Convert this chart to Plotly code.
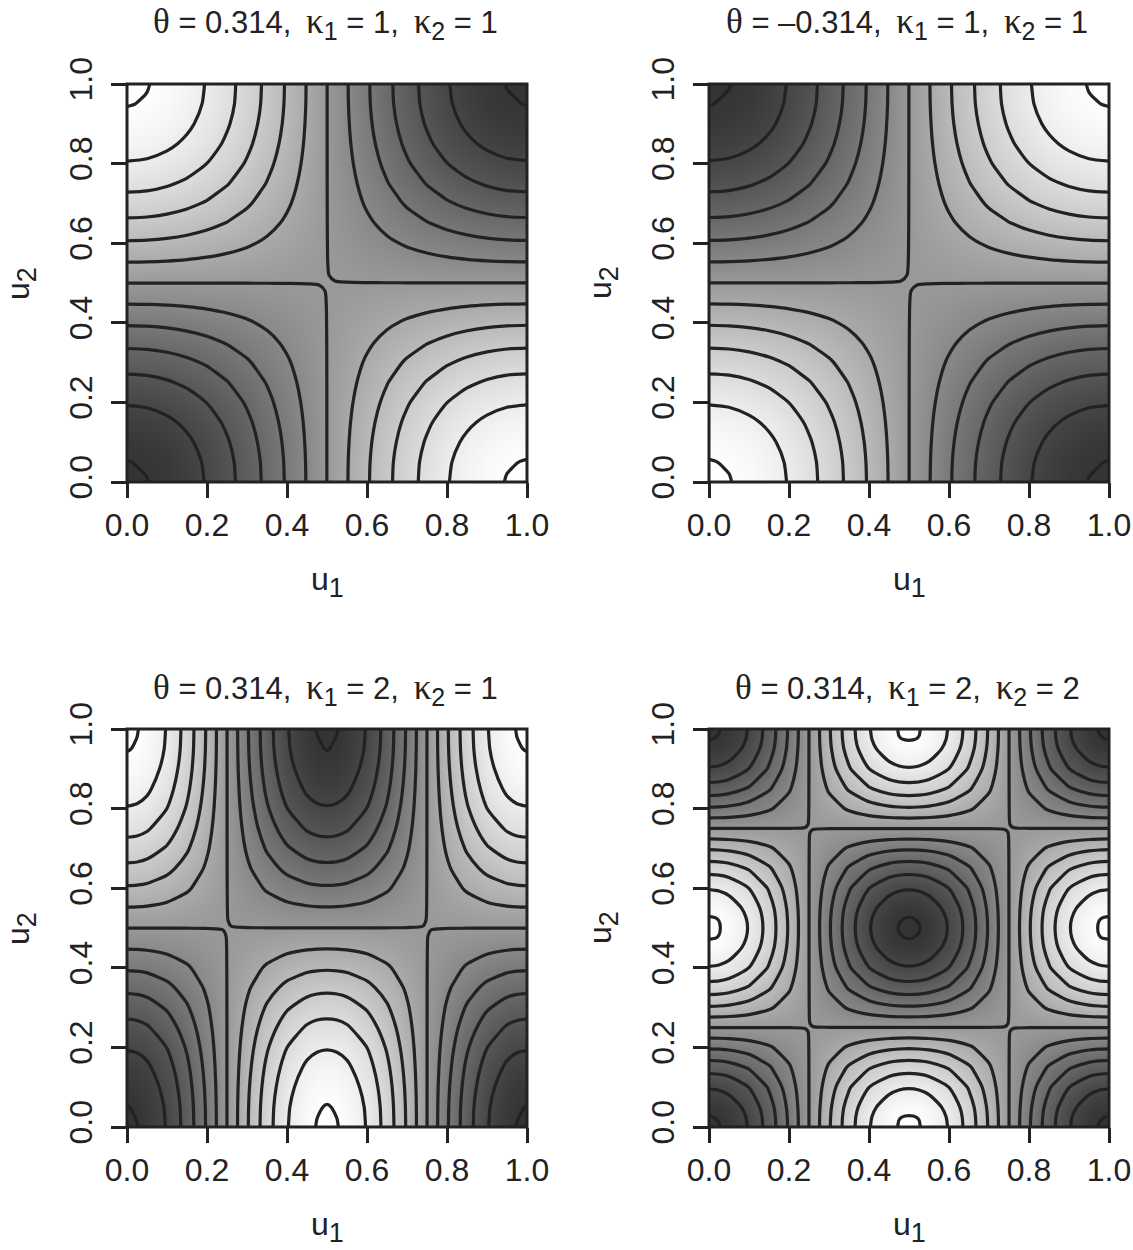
import plotly.graph_objects as go

# grid positions, values (scale: -100 white .. 100 dark)
u_k1 = [0, .05, .1, .15, .2, .25, .3, .35, .4, .45, .48, .52, .55, .6, .65, .7, .75, .8, .85, .9, .95, 1]
u_k2 = [0, .025, .05, .1, .15, .2, .24, .26, .3, .35, .4, .45, .475, .5, .525, .55, .6, .65, .7, .74, .76, .8, .85, .9, .95, .975, 1]

tick_vals = [0, .2, .4, .6, .8, 1]
tick_text = ['0.0', '0.2', '0.4', '0.6', '0.8', '1.0']

theta_a = '0.314'
theta_b = '–0.314'
kappa_pairs = [(1, 1), (1, 1), (2, 1), (2, 2)]

z_a = [
    [100,98.8,95.1,89.1,80.9,70.7,58.8,45.4,30.9,15.6,6.3,-6.3,-15.6,-30.9,-45.4,-58.8,-70.7,-80.9,-89.1,-95.1,-98.8,-100],
    [98.8,97.6,94.0,88.0,79.9,69.9,58.1,44.9,30.5,15.4,6.2,-6.2,-15.4,-30.5,-44.9,-58.1,-69.9,-79.9,-88.0,-94.0,-97.6,-98.8],
    [95.1,94.0,90.4,84.7,76.9,67.2,55.9,43.2,29.4,14.8,6.0,-6.0,-14.8,-29.4,-43.2,-55.9,-67.2,-76.9,-84.7,-90.4,-94.0,-95.1],
    [89.1,88.0,84.7,79.4,72.1,63.0,52.4,40.5,27.5,13.9,5.6,-5.6,-13.9,-27.5,-40.5,-52.4,-63.0,-72.1,-79.4,-84.7,-88.0,-89.1],
    [80.9,79.9,76.9,72.1,65.4,57.2,47.6,36.7,25.0,12.6,5.1,-5.1,-12.6,-25.0,-36.7,-47.6,-57.2,-65.4,-72.1,-76.9,-79.9,-80.9],
    [70.7,69.9,67.2,63.0,57.2,50.0,41.6,32.1,21.8,11.0,4.5,-4.5,-11.0,-21.8,-32.1,-41.6,-50.0,-57.2,-63.0,-67.2,-69.9,-70.7],
    [58.8,58.1,55.9,52.4,47.6,41.6,34.6,26.7,18.2,9.2,3.7,-3.7,-9.2,-18.2,-26.7,-34.6,-41.6,-47.6,-52.4,-55.9,-58.1,-58.8],
    [45.4,44.9,43.2,40.5,36.7,32.1,26.7,20.6,14.0,7.1,2.9,-2.9,-7.1,-14.0,-20.6,-26.7,-32.1,-36.7,-40.5,-43.2,-44.9,-45.4],
    [30.9,30.5,29.4,27.5,25.0,21.8,18.2,14.0,9.5,4.8,1.9,-1.9,-4.8,-9.5,-14.0,-18.2,-21.8,-25.0,-27.5,-29.4,-30.5,-30.9],
    [15.6,15.4,14.8,13.9,12.6,11.0,9.2,7.1,4.8,2.4,1.0,-1.0,-2.4,-4.8,-7.1,-9.2,-11.0,-12.6,-13.9,-14.8,-15.4,-15.6],
    [6.3,6.2,6.0,5.6,5.1,4.5,3.7,2.9,1.9,1.0,0.4,-0.4,-1.0,-1.9,-2.9,-3.7,-4.5,-5.1,-5.6,-6.0,-6.2,-6.3],
    [-6.3,-6.2,-6.0,-5.6,-5.1,-4.5,-3.7,-2.9,-1.9,-1.0,-0.4,0.4,1.0,1.9,2.9,3.7,4.5,5.1,5.6,6.0,6.2,6.3],
    [-15.6,-15.4,-14.8,-13.9,-12.6,-11.0,-9.2,-7.1,-4.8,-2.4,-1.0,1.0,2.4,4.8,7.1,9.2,11.0,12.6,13.9,14.8,15.4,15.6],
    [-30.9,-30.5,-29.4,-27.5,-25.0,-21.8,-18.2,-14.0,-9.5,-4.8,-1.9,1.9,4.8,9.5,14.0,18.2,21.8,25.0,27.5,29.4,30.5,30.9],
    [-45.4,-44.9,-43.2,-40.5,-36.7,-32.1,-26.7,-20.6,-14.0,-7.1,-2.9,2.9,7.1,14.0,20.6,26.7,32.1,36.7,40.5,43.2,44.9,45.4],
    [-58.8,-58.1,-55.9,-52.4,-47.6,-41.6,-34.6,-26.7,-18.2,-9.2,-3.7,3.7,9.2,18.2,26.7,34.6,41.6,47.6,52.4,55.9,58.1,58.8],
    [-70.7,-69.9,-67.2,-63.0,-57.2,-50.0,-41.6,-32.1,-21.8,-11.0,-4.5,4.5,11.0,21.8,32.1,41.6,50.0,57.2,63.0,67.2,69.9,70.7],
    [-80.9,-79.9,-76.9,-72.1,-65.4,-57.2,-47.6,-36.7,-25.0,-12.6,-5.1,5.1,12.6,25.0,36.7,47.6,57.2,65.4,72.1,76.9,79.9,80.9],
    [-89.1,-88.0,-84.7,-79.4,-72.1,-63.0,-52.4,-40.5,-27.5,-13.9,-5.6,5.6,13.9,27.5,40.5,52.4,63.0,72.1,79.4,84.7,88.0,89.1],
    [-95.1,-94.0,-90.4,-84.7,-76.9,-67.2,-55.9,-43.2,-29.4,-14.8,-6.0,6.0,14.8,29.4,43.2,55.9,67.2,76.9,84.7,90.4,94.0,95.1],
    [-98.8,-97.6,-94.0,-88.0,-79.9,-69.9,-58.1,-44.9,-30.5,-15.4,-6.2,6.2,15.4,30.5,44.9,58.1,69.9,79.9,88.0,94.0,97.6,98.8],
    [-100,-98.8,-95.1,-89.1,-80.9,-70.7,-58.8,-45.4,-30.9,-15.6,-6.3,6.3,15.6,30.9,45.4,58.8,70.7,80.9,89.1,95.1,98.8,100],
]

z_b = [
    [-100,-98.8,-95.1,-89.1,-80.9,-70.7,-58.8,-45.4,-30.9,-15.6,-6.3,6.3,15.6,30.9,45.4,58.8,70.7,80.9,89.1,95.1,98.8,100],
    [-98.8,-97.6,-94.0,-88.0,-79.9,-69.9,-58.1,-44.9,-30.5,-15.4,-6.2,6.2,15.4,30.5,44.9,58.1,69.9,79.9,88.0,94.0,97.6,98.8],
    [-95.1,-94.0,-90.4,-84.7,-76.9,-67.2,-55.9,-43.2,-29.4,-14.8,-6.0,6.0,14.8,29.4,43.2,55.9,67.2,76.9,84.7,90.4,94.0,95.1],
    [-89.1,-88.0,-84.7,-79.4,-72.1,-63.0,-52.4,-40.5,-27.5,-13.9,-5.6,5.6,13.9,27.5,40.5,52.4,63.0,72.1,79.4,84.7,88.0,89.1],
    [-80.9,-79.9,-76.9,-72.1,-65.4,-57.2,-47.6,-36.7,-25.0,-12.6,-5.1,5.1,12.6,25.0,36.7,47.6,57.2,65.4,72.1,76.9,79.9,80.9],
    [-70.7,-69.9,-67.2,-63.0,-57.2,-50.0,-41.6,-32.1,-21.8,-11.0,-4.5,4.5,11.0,21.8,32.1,41.6,50.0,57.2,63.0,67.2,69.9,70.7],
    [-58.8,-58.1,-55.9,-52.4,-47.6,-41.6,-34.6,-26.7,-18.2,-9.2,-3.7,3.7,9.2,18.2,26.7,34.6,41.6,47.6,52.4,55.9,58.1,58.8],
    [-45.4,-44.9,-43.2,-40.5,-36.7,-32.1,-26.7,-20.6,-14.0,-7.1,-2.9,2.9,7.1,14.0,20.6,26.7,32.1,36.7,40.5,43.2,44.9,45.4],
    [-30.9,-30.5,-29.4,-27.5,-25.0,-21.8,-18.2,-14.0,-9.5,-4.8,-1.9,1.9,4.8,9.5,14.0,18.2,21.8,25.0,27.5,29.4,30.5,30.9],
    [-15.6,-15.4,-14.8,-13.9,-12.6,-11.0,-9.2,-7.1,-4.8,-2.4,-1.0,1.0,2.4,4.8,7.1,9.2,11.0,12.6,13.9,14.8,15.4,15.6],
    [-6.3,-6.2,-6.0,-5.6,-5.1,-4.5,-3.7,-2.9,-1.9,-1.0,-0.4,0.4,1.0,1.9,2.9,3.7,4.5,5.1,5.6,6.0,6.2,6.3],
    [6.3,6.2,6.0,5.6,5.1,4.5,3.7,2.9,1.9,1.0,0.4,-0.4,-1.0,-1.9,-2.9,-3.7,-4.5,-5.1,-5.6,-6.0,-6.2,-6.3],
    [15.6,15.4,14.8,13.9,12.6,11.0,9.2,7.1,4.8,2.4,1.0,-1.0,-2.4,-4.8,-7.1,-9.2,-11.0,-12.6,-13.9,-14.8,-15.4,-15.6],
    [30.9,30.5,29.4,27.5,25.0,21.8,18.2,14.0,9.5,4.8,1.9,-1.9,-4.8,-9.5,-14.0,-18.2,-21.8,-25.0,-27.5,-29.4,-30.5,-30.9],
    [45.4,44.9,43.2,40.5,36.7,32.1,26.7,20.6,14.0,7.1,2.9,-2.9,-7.1,-14.0,-20.6,-26.7,-32.1,-36.7,-40.5,-43.2,-44.9,-45.4],
    [58.8,58.1,55.9,52.4,47.6,41.6,34.6,26.7,18.2,9.2,3.7,-3.7,-9.2,-18.2,-26.7,-34.6,-41.6,-47.6,-52.4,-55.9,-58.1,-58.8],
    [70.7,69.9,67.2,63.0,57.2,50.0,41.6,32.1,21.8,11.0,4.5,-4.5,-11.0,-21.8,-32.1,-41.6,-50.0,-57.2,-63.0,-67.2,-69.9,-70.7],
    [80.9,79.9,76.9,72.1,65.4,57.2,47.6,36.7,25.0,12.6,5.1,-5.1,-12.6,-25.0,-36.7,-47.6,-57.2,-65.4,-72.1,-76.9,-79.9,-80.9],
    [89.1,88.0,84.7,79.4,72.1,63.0,52.4,40.5,27.5,13.9,5.6,-5.6,-13.9,-27.5,-40.5,-52.4,-63.0,-72.1,-79.4,-84.7,-88.0,-89.1],
    [95.1,94.0,90.4,84.7,76.9,67.2,55.9,43.2,29.4,14.8,6.0,-6.0,-14.8,-29.4,-43.2,-55.9,-67.2,-76.9,-84.7,-90.4,-94.0,-95.1],
    [98.8,97.6,94.0,88.0,79.9,69.9,58.1,44.9,30.5,15.4,6.2,-6.2,-15.4,-30.5,-44.9,-58.1,-69.9,-79.9,-88.0,-94.0,-97.6,-98.8],
    [100,98.8,95.1,89.1,80.9,70.7,58.8,45.4,30.9,15.6,6.3,-6.3,-15.6,-30.9,-45.4,-58.8,-70.7,-80.9,-89.1,-95.1,-98.8,-100],
]

z_c = [
    [100,98.8,95.1,80.9,58.8,30.9,6.3,-6.3,-30.9,-58.8,-80.9,-95.1,-98.8,-100,-98.8,-95.1,-80.9,-58.8,-30.9,-6.3,6.3,30.9,58.8,80.9,95.1,98.8,100],
    [98.8,97.6,94.0,79.9,58.1,30.5,6.2,-6.2,-30.5,-58.1,-79.9,-94.0,-97.6,-98.8,-97.6,-94.0,-79.9,-58.1,-30.5,-6.2,6.2,30.5,58.1,79.9,94.0,97.6,98.8],
    [95.1,94.0,90.4,76.9,55.9,29.4,6.0,-6.0,-29.4,-55.9,-76.9,-90.4,-94.0,-95.1,-94.0,-90.4,-76.9,-55.9,-29.4,-6.0,6.0,29.4,55.9,76.9,90.4,94.0,95.1],
    [89.1,88.0,84.7,72.1,52.4,27.5,5.6,-5.6,-27.5,-52.4,-72.1,-84.7,-88.0,-89.1,-88.0,-84.7,-72.1,-52.4,-27.5,-5.6,5.6,27.5,52.4,72.1,84.7,88.0,89.1],
    [80.9,79.9,76.9,65.4,47.6,25.0,5.1,-5.1,-25.0,-47.6,-65.4,-76.9,-79.9,-80.9,-79.9,-76.9,-65.4,-47.6,-25.0,-5.1,5.1,25.0,47.6,65.4,76.9,79.9,80.9],
    [70.7,69.9,67.2,57.2,41.6,21.8,4.5,-4.5,-21.8,-41.6,-57.2,-67.2,-69.9,-70.7,-69.9,-67.2,-57.2,-41.6,-21.8,-4.5,4.5,21.8,41.6,57.2,67.2,69.9,70.7],
    [58.8,58.1,55.9,47.6,34.6,18.2,3.7,-3.7,-18.2,-34.6,-47.6,-55.9,-58.1,-58.8,-58.1,-55.9,-47.6,-34.6,-18.2,-3.7,3.7,18.2,34.6,47.6,55.9,58.1,58.8],
    [45.4,44.9,43.2,36.7,26.7,14.0,2.9,-2.9,-14.0,-26.7,-36.7,-43.2,-44.9,-45.4,-44.9,-43.2,-36.7,-26.7,-14.0,-2.9,2.9,14.0,26.7,36.7,43.2,44.9,45.4],
    [30.9,30.5,29.4,25.0,18.2,9.5,1.9,-1.9,-9.5,-18.2,-25.0,-29.4,-30.5,-30.9,-30.5,-29.4,-25.0,-18.2,-9.5,-1.9,1.9,9.5,18.2,25.0,29.4,30.5,30.9],
    [15.6,15.4,14.8,12.6,9.2,4.8,1.0,-1.0,-4.8,-9.2,-12.6,-14.8,-15.4,-15.6,-15.4,-14.8,-12.6,-9.2,-4.8,-1.0,1.0,4.8,9.2,12.6,14.8,15.4,15.6],
    [6.3,6.2,6.0,5.1,3.7,1.9,0.4,-0.4,-1.9,-3.7,-5.1,-6.0,-6.2,-6.3,-6.2,-6.0,-5.1,-3.7,-1.9,-0.4,0.4,1.9,3.7,5.1,6.0,6.2,6.3],
    [-6.3,-6.2,-6.0,-5.1,-3.7,-1.9,-0.4,0.4,1.9,3.7,5.1,6.0,6.2,6.3,6.2,6.0,5.1,3.7,1.9,0.4,-0.4,-1.9,-3.7,-5.1,-6.0,-6.2,-6.3],
    [-15.6,-15.4,-14.8,-12.6,-9.2,-4.8,-1.0,1.0,4.8,9.2,12.6,14.8,15.4,15.6,15.4,14.8,12.6,9.2,4.8,1.0,-1.0,-4.8,-9.2,-12.6,-14.8,-15.4,-15.6],
    [-30.9,-30.5,-29.4,-25.0,-18.2,-9.5,-1.9,1.9,9.5,18.2,25.0,29.4,30.5,30.9,30.5,29.4,25.0,18.2,9.5,1.9,-1.9,-9.5,-18.2,-25.0,-29.4,-30.5,-30.9],
    [-45.4,-44.9,-43.2,-36.7,-26.7,-14.0,-2.9,2.9,14.0,26.7,36.7,43.2,44.9,45.4,44.9,43.2,36.7,26.7,14.0,2.9,-2.9,-14.0,-26.7,-36.7,-43.2,-44.9,-45.4],
    [-58.8,-58.1,-55.9,-47.6,-34.6,-18.2,-3.7,3.7,18.2,34.6,47.6,55.9,58.1,58.8,58.1,55.9,47.6,34.6,18.2,3.7,-3.7,-18.2,-34.6,-47.6,-55.9,-58.1,-58.8],
    [-70.7,-69.9,-67.2,-57.2,-41.6,-21.8,-4.5,4.5,21.8,41.6,57.2,67.2,69.9,70.7,69.9,67.2,57.2,41.6,21.8,4.5,-4.5,-21.8,-41.6,-57.2,-67.2,-69.9,-70.7],
    [-80.9,-79.9,-76.9,-65.4,-47.6,-25.0,-5.1,5.1,25.0,47.6,65.4,76.9,79.9,80.9,79.9,76.9,65.4,47.6,25.0,5.1,-5.1,-25.0,-47.6,-65.4,-76.9,-79.9,-80.9],
    [-89.1,-88.0,-84.7,-72.1,-52.4,-27.5,-5.6,5.6,27.5,52.4,72.1,84.7,88.0,89.1,88.0,84.7,72.1,52.4,27.5,5.6,-5.6,-27.5,-52.4,-72.1,-84.7,-88.0,-89.1],
    [-95.1,-94.0,-90.4,-76.9,-55.9,-29.4,-6.0,6.0,29.4,55.9,76.9,90.4,94.0,95.1,94.0,90.4,76.9,55.9,29.4,6.0,-6.0,-29.4,-55.9,-76.9,-90.4,-94.0,-95.1],
    [-98.8,-97.6,-94.0,-79.9,-58.1,-30.5,-6.2,6.2,30.5,58.1,79.9,94.0,97.6,98.8,97.6,94.0,79.9,58.1,30.5,6.2,-6.2,-30.5,-58.1,-79.9,-94.0,-97.6,-98.8],
    [-100,-98.8,-95.1,-80.9,-58.8,-30.9,-6.3,6.3,30.9,58.8,80.9,95.1,98.8,100,98.8,95.1,80.9,58.8,30.9,6.3,-6.3,-30.9,-58.8,-80.9,-95.1,-98.8,-100],
]

z_d = [
    [100,98.8,95.1,80.9,58.8,30.9,6.3,-6.3,-30.9,-58.8,-80.9,-95.1,-98.8,-100,-98.8,-95.1,-80.9,-58.8,-30.9,-6.3,6.3,30.9,58.8,80.9,95.1,98.8,100],
    [98.8,98.1,94.0,79.9,58.1,30.5,6.2,-6.2,-30.5,-58.1,-79.9,-94.0,-98.1,-98.8,-98.1,-94.0,-79.9,-58.1,-30.5,-6.2,6.2,30.5,58.1,79.9,94.0,98.1,98.8],
    [95.1,94.0,90.4,76.9,55.9,29.4,6.0,-6.0,-29.4,-55.9,-76.9,-90.4,-94.0,-95.1,-94.0,-90.4,-76.9,-55.9,-29.4,-6.0,6.0,29.4,55.9,76.9,90.4,94.0,95.1],
    [80.9,79.9,76.9,65.4,47.6,25.0,5.1,-5.1,-25.0,-47.6,-65.4,-76.9,-79.9,-80.9,-79.9,-76.9,-65.4,-47.6,-25.0,-5.1,5.1,25.0,47.6,65.4,76.9,79.9,80.9],
    [58.8,58.1,55.9,47.6,34.6,18.2,3.7,-3.7,-18.2,-34.6,-47.6,-55.9,-58.1,-58.8,-58.1,-55.9,-47.6,-34.6,-18.2,-3.7,3.7,18.2,34.6,47.6,55.9,58.1,58.8],
    [30.9,30.5,29.4,25.0,18.2,9.5,1.9,-1.9,-9.5,-18.2,-25.0,-29.4,-30.5,-30.9,-30.5,-29.4,-25.0,-18.2,-9.5,-1.9,1.9,9.5,18.2,25.0,29.4,30.5,30.9],
    [6.3,6.2,6.0,5.1,3.7,1.9,0.4,-0.4,-1.9,-3.7,-5.1,-6.0,-6.2,-6.3,-6.2,-6.0,-5.1,-3.7,-1.9,-0.4,0.4,1.9,3.7,5.1,6.0,6.2,6.3],
    [-6.3,-6.2,-6.0,-5.1,-3.7,-1.9,-0.4,0.4,1.9,3.7,5.1,6.0,6.2,6.3,6.2,6.0,5.1,3.7,1.9,0.4,-0.4,-1.9,-3.7,-5.1,-6.0,-6.2,-6.3],
    [-30.9,-30.5,-29.4,-25.0,-18.2,-9.5,-1.9,1.9,9.5,18.2,25.0,29.4,30.5,30.9,30.5,29.4,25.0,18.2,9.5,1.9,-1.9,-9.5,-18.2,-25.0,-29.4,-30.5,-30.9],
    [-58.8,-58.1,-55.9,-47.6,-34.6,-18.2,-3.7,3.7,18.2,34.6,47.6,55.9,58.1,58.8,58.1,55.9,47.6,34.6,18.2,3.7,-3.7,-18.2,-34.6,-47.6,-55.9,-58.1,-58.8],
    [-80.9,-79.9,-76.9,-65.4,-47.6,-25.0,-5.1,5.1,25.0,47.6,65.4,76.9,79.9,80.9,79.9,76.9,65.4,47.6,25.0,5.1,-5.1,-25.0,-47.6,-65.4,-76.9,-79.9,-80.9],
    [-95.1,-94.0,-90.4,-76.9,-55.9,-29.4,-6.0,6.0,29.4,55.9,76.9,90.4,94.0,95.1,94.0,90.4,76.9,55.9,29.4,6.0,-6.0,-29.4,-55.9,-76.9,-90.4,-94.0,-95.1],
    [-98.8,-98.1,-94.0,-79.9,-58.1,-30.5,-6.2,6.2,30.5,58.1,79.9,94.0,98.1,98.8,98.1,94.0,79.9,58.1,30.5,6.2,-6.2,-30.5,-58.1,-79.9,-94.0,-98.1,-98.8],
    [-100,-98.8,-95.1,-80.9,-58.8,-30.9,-6.3,6.3,30.9,58.8,80.9,95.1,98.8,100,98.8,95.1,80.9,58.8,30.9,6.3,-6.3,-30.9,-58.8,-80.9,-95.1,-98.8,-100],
    [-98.8,-98.1,-94.0,-79.9,-58.1,-30.5,-6.2,6.2,30.5,58.1,79.9,94.0,98.1,98.8,98.1,94.0,79.9,58.1,30.5,6.2,-6.2,-30.5,-58.1,-79.9,-94.0,-98.1,-98.8],
    [-95.1,-94.0,-90.4,-76.9,-55.9,-29.4,-6.0,6.0,29.4,55.9,76.9,90.4,94.0,95.1,94.0,90.4,76.9,55.9,29.4,6.0,-6.0,-29.4,-55.9,-76.9,-90.4,-94.0,-95.1],
    [-80.9,-79.9,-76.9,-65.4,-47.6,-25.0,-5.1,5.1,25.0,47.6,65.4,76.9,79.9,80.9,79.9,76.9,65.4,47.6,25.0,5.1,-5.1,-25.0,-47.6,-65.4,-76.9,-79.9,-80.9],
    [-58.8,-58.1,-55.9,-47.6,-34.6,-18.2,-3.7,3.7,18.2,34.6,47.6,55.9,58.1,58.8,58.1,55.9,47.6,34.6,18.2,3.7,-3.7,-18.2,-34.6,-47.6,-55.9,-58.1,-58.8],
    [-30.9,-30.5,-29.4,-25.0,-18.2,-9.5,-1.9,1.9,9.5,18.2,25.0,29.4,30.5,30.9,30.5,29.4,25.0,18.2,9.5,1.9,-1.9,-9.5,-18.2,-25.0,-29.4,-30.5,-30.9],
    [-6.3,-6.2,-6.0,-5.1,-3.7,-1.9,-0.4,0.4,1.9,3.7,5.1,6.0,6.2,6.3,6.2,6.0,5.1,3.7,1.9,0.4,-0.4,-1.9,-3.7,-5.1,-6.0,-6.2,-6.3],
    [6.3,6.2,6.0,5.1,3.7,1.9,0.4,-0.4,-1.9,-3.7,-5.1,-6.0,-6.2,-6.3,-6.2,-6.0,-5.1,-3.7,-1.9,-0.4,0.4,1.9,3.7,5.1,6.0,6.2,6.3],
    [30.9,30.5,29.4,25.0,18.2,9.5,1.9,-1.9,-9.5,-18.2,-25.0,-29.4,-30.5,-30.9,-30.5,-29.4,-25.0,-18.2,-9.5,-1.9,1.9,9.5,18.2,25.0,29.4,30.5,30.9],
    [58.8,58.1,55.9,47.6,34.6,18.2,3.7,-3.7,-18.2,-34.6,-47.6,-55.9,-58.1,-58.8,-58.1,-55.9,-47.6,-34.6,-18.2,-3.7,3.7,18.2,34.6,47.6,55.9,58.1,58.8],
    [80.9,79.9,76.9,65.4,47.6,25.0,5.1,-5.1,-25.0,-47.6,-65.4,-76.9,-79.9,-80.9,-79.9,-76.9,-65.4,-47.6,-25.0,-5.1,5.1,25.0,47.6,65.4,76.9,79.9,80.9],
    [95.1,94.0,90.4,76.9,55.9,29.4,6.0,-6.0,-29.4,-55.9,-76.9,-90.4,-94.0,-95.1,-94.0,-90.4,-76.9,-55.9,-29.4,-6.0,6.0,29.4,55.9,76.9,90.4,94.0,95.1],
    [98.8,98.1,94.0,79.9,58.1,30.5,6.2,-6.2,-30.5,-58.1,-79.9,-94.0,-98.1,-98.8,-98.1,-94.0,-79.9,-58.1,-30.5,-6.2,6.2,30.5,58.1,79.9,94.0,98.1,98.8],
    [100,98.8,95.1,80.9,58.8,30.9,6.3,-6.3,-30.9,-58.8,-80.9,-95.1,-98.8,-100,-98.8,-95.1,-80.9,-58.8,-30.9,-6.3,6.3,30.9,58.8,80.9,95.1,98.8,100],
]

W, H = 1133, 1250
INK = '#222222'
FONT = 'Liberation Sans'
SERIF = 'Liberation Serif'
greys = [[0, '#ffffff'], [.5, '#999999'], [1, '#333333']]

# plot boxes in pixels: left, right, top, bottom
boxes = [(127, 527, 84, 482), (709, 1109, 84, 482), (127, 527, 729, 1127), (709, 1109, 729, 1127)]
grids = [(u_k1, u_k1, z_a), (u_k1, u_k1, z_b), (u_k2, u_k1, z_c), (u_k2, u_k2, z_d)]
thetas = [theta_a, theta_b, theta_a, theta_a]
title_y = [24, 24, 689, 689]


def greek(ch):
    return f'<span style="font-family:{SERIF};font-size:35px">{ch}</span>'


def sub(ch, size=25):
    return f'<sub><span style="font-size:{size}px">{ch}</span></sub>'


fig = go.Figure()
notes = []
for i, (box, grid) in enumerate(zip(boxes, grids)):
    left, right, top, bottom = box
    n = '' if i == 0 else str(i + 1)
    fig.add_trace(go.Contour(
        x=grid[0], y=grid[1], z=grid[2], xaxis=f'x{n}', yaxis=f'y{n}',
        colorscale=greys, zauto=False, zmin=-100, zmax=100, showscale=False,
        contours=dict(start=-98.3, end=98.6, size=16.4, coloring='heatmap', showlines=True),
        line=dict(color=INK, width=3.2, smoothing=0.7),
        hoverinfo='skip',
    ))
    axis_common = dict(
        range=[0, 1], tickvals=tick_vals, ticktext=tick_text, ticks='outside', ticklen=15, tickwidth=2.5,
        tickcolor=INK, showline=False, showgrid=False, zeroline=False,
        tickfont=dict(family=FONT, size=32, color=INK), automargin=False,
    )
    fig.layout[f'xaxis{n}'] = dict(axis_common, domain=[left / W, right / W], anchor=f'y{n}', ticklabelstandoff=0)
    fig.layout[f'yaxis{n}'] = dict(axis_common, domain=[1 - bottom / H, 1 - top / H], anchor=f'x{n}',
                                   tickangle=-90, ticklabelstandoff=6)
    # box centred on the plot edge, as in the reference
    fig.add_shape(type='rect', xref=f'x{n} domain', yref=f'y{n} domain', x0=0, x1=1, y0=0, y1=1,
                  line=dict(color=INK, width=3), layer='above')

    k1, k2 = kappa_pairs[i]
    mid_x = (left + right) / 2
    mid_y = (top + bottom) / 2
    title = (f'{greek("θ")} = {thetas[i]},\u2009 {greek("κ")}{sub(1)} = {k1},\u2009 '
             f'{greek("κ")}{sub(2)} = {k2}')
    notes.append(dict(text=title, x=(mid_x - 2) / W, y=1 - title_y[i] / H, font_size=31))
    notes.append(dict(text=f'u{sub(1, 27)}', x=mid_x / W, y=1 - (bottom + 100) / H, font_size=32))
    notes.append(dict(text=f'u{sub(2, 27)}', x=(left - 106) / W, y=1 - mid_y / H, textangle=-90, font_size=32))

for note in notes:
    size = note.pop('font_size')
    fig.add_annotation(xref='paper', yref='paper', showarrow=False, xanchor='center', yanchor='middle',
                       font=dict(family=FONT, size=size, color=INK), **note)

fig.update_layout(width=W, height=H, margin=dict(l=0, r=0, t=0, b=0), plot_bgcolor='white',
                  paper_bgcolor='white', showlegend=False)
fig.write_html("out.html", config=dict(displayModeBar=False),
               post_script="document.body.style.margin='0';document.body.style.overflow='hidden';")
